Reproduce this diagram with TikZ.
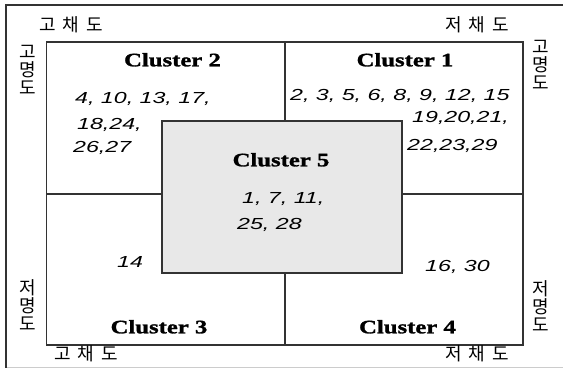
\documentclass[tikz,border=0pt]{standalone}
\usepackage{fontspec}
\setmainfont{Liberation Serif}
\newfontfamily\clfont[FakeStretch=1.3,FakeBold=1.5]{Liberation Serif}
\newfontfamily\numfont[FakeStretch=1.45]{Liberation Sans}
\newfontfamily\krfont[LetterSpace=39]{Noto Sans CJK KR}
\newfontfamily\krvfont{Noto Sans CJK KR}
\definecolor{linegray}{HTML}{333333}
\definecolor{boxfill}{HTML}{E8E8E8}
\definecolor{framelight}{HTML}{CCCCCC}
\begin{document}
\begin{tikzpicture}[x=1pt,y=-1pt,
  quad/.style={draw=linegray,line width=1.6pt},
  cl/.style={font=\clfont\bfseries\fontsize{19}{21}\selectfont,inner sep=0pt,text height=12.6pt,text depth=0pt},
  num/.style={font=\numfont\itshape\fontsize{16}{18}\selectfont,inner sep=0pt,text height=11.5pt,text depth=0pt,anchor=west},
  krh/.style={font=\krfont\fontsize{18}{18}\selectfont,inner sep=0pt,anchor=west},
  krv/.style={font=\krvfont\fontsize{18}{18}\selectfont,inner sep=0pt,align=center},
]
\useasboundingbox (0,0) rectangle (563,369);
\fill[white] (0,0) rectangle (563,369);
% outer frame
\coordinate (fbl) at (6,367.5);
\coordinate (ftl) at (6,5);
\coordinate (ftr) at (563,5);
\coordinate (fbr) at (563,367.5);
\draw[framelight,line width=1pt] (fbl) -- (fbr);
\draw[linegray,line width=1.5pt] (fbl) -- (ftl) -- (ftr);
% quadrant square
\coordinate (qtl) at (46.5,42);
\coordinate (qbr) at (523,345);
\coordinate (qtm) at (285,42);
\coordinate (qbm) at (285,345);
\coordinate (qml) at (46.5,194);
\coordinate (qmr) at (523,194);
\draw[quad] (qtl) rectangle (qbr);
\draw[quad] (qtm) -- (qbm);
\draw[quad] (qml) -- (qmr);
% centre box
\node[quad,fill=boxfill,minimum width=240pt,minimum height=152pt,inner sep=0pt] (c5box) at (282,197) {};
% cluster labels
\node[cl] (c2) at (172.5,60) {Cluster 2};
\node[cl] (c1) at (405,60) {Cluster 1};
\node[cl] (c5) at (281,160) {Cluster 5};
\node[cl] (c3) at (159,327) {Cluster 3};
\node[cl] (c4) at (407.5,327) {Cluster 4};
% numbers
\node[num] (n2a) at (75,98) {4, 10, 13, 17,};
\node[num] (n2b) at (77,124) {18,24,};
\node[num] (n2c) at (73,147) {26,27};
\node[num] (n1a) at (290,95) {2, 3, 5, 6, 8, 9, 12, 15};
\node[num] (n1b) at (412,117) {19,20,21,};
\node[num] (n1c) at (407,145) {22,23,29};
\node[num] (n5a) at (242,198) {1, 7, 11,};
\node[num] (n5b) at (237,224) {25, 28};
\node[num] (n3) at (117,262) {14};
\node[num] (n4) at (425,266) {16, 30};
% korean axis labels
\node[krh] (ctl) at (39,25) {고채도};
\node[krh] (ctr) at (445,25) {저채도};
\node[krh] (cbl) at (54,354) {고채도};
\node[krh] (cbr) at (445,354) {저채도};
\node[krv] (lvt) at (28,70) {고\\명\\도};
\node[krv] (rvt) at (541,65) {고\\명\\도};
\node[krv] (lvb) at (28,305) {저\\명\\도};
\node[krv] (rvb) at (541,306) {저\\명\\도};
\end{tikzpicture}
\end{document}
